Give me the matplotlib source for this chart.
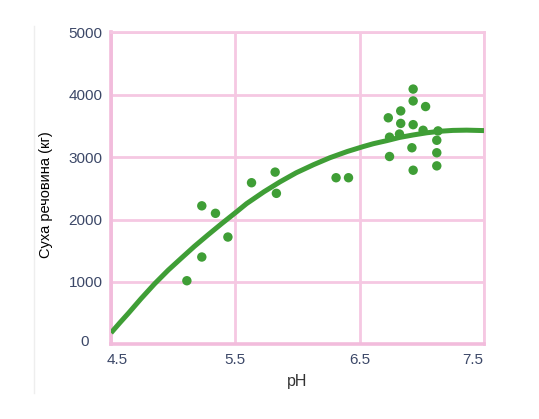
import matplotlib
matplotlib.use("Agg")
import matplotlib.pyplot as plt
import matplotlib.transforms as mtransforms
from matplotlib.lines import Line2D

plt.rcParams['font.family'] = ['Liberation Sans', 'DejaVu Sans']

# measured points
ph = [5.11, 5.23, 5.23, 5.34, 5.44, 5.63, 5.82, 5.83, 6.31, 6.41,
      6.73, 6.74, 6.74, 6.83, 6.83, 6.82, 6.93, 6.93, 6.93, 6.92,
      6.93, 7.03, 7.01, 7.13, 7.12, 7.12, 7.12]
dry_mass = [1020, 1400, 2220, 2100, 1720, 2590, 2760, 2420, 2670, 2670,
            3630, 3320, 3010, 3740, 3540, 3370, 4090, 3900, 3520, 3150,
            2790, 3810, 3430, 3420, 3270, 3070, 2860]

# trend curve
curve_ph = [4.50, 4.57, 4.64, 4.74, 4.85, 4.96, 5.07, 5.17, 5.28, 5.39, 5.51,
            5.59, 5.73, 5.86, 5.99, 6.13, 6.26, 6.40, 6.53, 6.61, 6.72,
            6.82, 6.93, 7.04, 7.15, 7.25, 7.36, 7.50]
curve_mass = [185, 345, 500, 730, 970, 1190, 1390, 1570, 1755, 1935, 2125,
              2255, 2445, 2605, 2750, 2880, 2990, 3090, 3170, 3215, 3265,
              3315, 3355, 3390, 3415, 3428, 3432, 3425]

xticks = [4.5, 5.5, 6.5, 7.5]
yticks = [0, 1000, 2000, 3000, 4000, 5000]

green = "#3f9e36"
pink = "#f5c8e2"
tick_color = "#3c4868"

fig = plt.figure(figsize=(5.39, 4.19), dpi=100)
ax = fig.add_axes([0.206, 0.178, 0.692, 0.745])

ax.plot(curve_ph, curve_mass, color=green, lw=3.6, solid_capstyle="butt",
        solid_joinstyle="round", zorder=3)
ax.scatter(ph, dry_mass, s=46, color=green, edgecolors="none", zorder=4)

ax.set_xlim(4.5, 7.5)
ax.set_ylim(0, 5000)
ax.set_xticks(xticks)
ax.set_xticklabels([str(t) for t in xticks])
ax.set_yticks(yticks)
ax.set_yticklabels([str(t) for t in yticks])
ax.grid(True, color=pink, lw=2, zorder=0)
ax.set_axisbelow(True)
for sp in ax.spines.values():
    sp.set_color(pink)
    sp.set_linewidth(2)
ax.spines['left'].set_color("#f2bcdc")
ax.spines['bottom'].set_color("#f2bcdc")
ax.spines['left'].set_linewidth(2.6)
ax.spines['bottom'].set_linewidth(2.6)

ax.tick_params(length=0, labelsize=11, labelcolor=tick_color, pad=6)

# nudge end labels like the original
xl = ax.get_xticklabels()
xl[0].set_transform(xl[0].get_transform() + mtransforms.ScaledTranslation(6/100, 0, fig.dpi_scale_trans))
xl[-1].set_transform(xl[-1].get_transform() + mtransforms.ScaledTranslation(-11/100, 0, fig.dpi_scale_trans))
yl = ax.get_yticklabels()
yl[0].set_transform(yl[0].get_transform() + mtransforms.ScaledTranslation(-14/100, 4/100, fig.dpi_scale_trans))

ax.set_xlabel("pH", fontsize=11.5, color="#333333")
ax.xaxis.set_label_coords(0.5, -0.095)
ax.set_ylabel("Суха речовина (кг)", fontsize=10.5, color="black")
ax.yaxis.set_label_coords(-0.155, 0.48)

# faint border line at left of the figure
fig.add_artist(Line2D([34/539, 34/539], [1 - 393/419, 1 - 26/419],
                      color="#eeeeee", lw=1, transform=fig.transFigure))

fig.savefig("out.png", dpi=100)
